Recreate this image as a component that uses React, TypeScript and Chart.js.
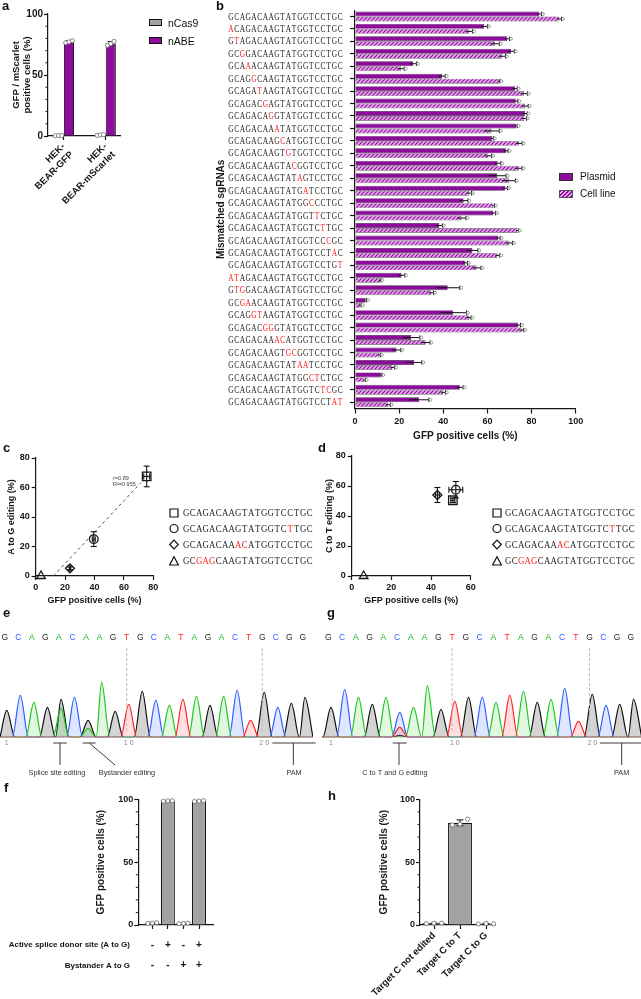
import React, { useEffect, useRef } from 'react';
import { Chart, registerables } from 'chart.js';

Chart.register(...registerables);

const SANS = '"Liberation Sans", Arial, Helvetica, sans-serif';
const SERIF = '"Liberation Serif", "Times New Roman", serif';
Chart.defaults.font.family = SANS;
Chart.defaults.color = '#111';

const AX = '#161616';
const PURPLE = '#8e0c9c';
const GRAY = '#a2a2a2';
const RED = '#ff2020';

// ---------- panel a ----------
const aGroups = [['HEK-', 'BEAR-GFP'], ['HEK-', 'BEAR-mScarlet']];
const aSeries = ['nCas9', 'nABE'];
const aCas9 = [0.3, 0.8];
const aABE = [77.2, 75.8];
const aCas9Err = [0.1, 0.3];
const aABEErr = [0.9, 1.6];
const aCas9Reps = [[0.2, 0.3, 0.4], [0.5, 0.8, 1.1]];
const aABEReps = [[76.4, 77.1, 78.1], [74.3, 75.6, 77.6]];
const aTicks = [0, 50, 100];

// ---------- panel b ----------
const WT = 'GCAGACAAGTATGGTCCTGC';
const bSeqs = [
  'GCAGACAAGTATGGTCCTGC', 'ACAGACAAGTATGGTCCTGC', 'GTAGACAAGTATGGTCCTGC', 'GCGGACAAGTATGGTCCTGC',
  'GCAAACAAGTATGGTCCTGC', 'GCAGGCAAGTATGGTCCTGC', 'GCAGATAAGTATGGTCCTGC', 'GCAGACGAGTATGGTCCTGC',
  'GCAGACAGGTATGGTCCTGC', 'GCAGACAAATATGGTCCTGC', 'GCAGACAAGCATGGTCCTGC', 'GCAGACAAGTGTGGTCCTGC',
  'GCAGACAAGTACGGTCCTGC', 'GCAGACAAGTATAGTCCTGC', 'GCAGACAAGTATGATCCTGC', 'GCAGACAAGTATGGCCCTGC',
  'GCAGACAAGTATGGTTCTGC', 'GCAGACAAGTATGGTCTTGC', 'GCAGACAAGTATGGTCCCGC', 'GCAGACAAGTATGGTCCTAC',
  'GCAGACAAGTATGGTCCTGT', 'ATAGACAAGTATGGTCCTGC', 'GTGGACAAGTATGGTCCTGC', 'GCGAACAAGTATGGTCCTGC',
  'GCAGGTAAGTATGGTCCTGC', 'GCAGACGGGTATGGTCCTGC', 'GCAGACAAACATGGTCCTGC', 'GCAGACAAGTGCGGTCCTGC',
  'GCAGACAAGTATAATCCTGC', 'GCAGACAAGTATGGCTCTGC', 'GCAGACAAGTATGGTCTCGC', 'GCAGACAAGTATGGTCCTAT',
];
const bPlasmid = [83.5, 58.6, 69.0, 70.7, 26.4, 39.4, 72.5, 72.8, 77.0, 73.0, 62.2, 68.4, 64.6, 64.5, 68.1, 49.2,
  62.7, 38.2, 64.8, 53.2, 50.0, 21.1, 42.0, 4.8, 44.5, 74.0, 25.4, 18.8, 26.8, 11.7, 47.5, 29.0];
const bCell = [92.6, 51.8, 63.4, 66.7, 20.8, 65.2, 76.6, 77.0, 76.7, 61.9, 74.3, 60.4, 74.2, 69.7, 51.8, 62.7,
  48.3, 73.5, 69.9, 64.6, 55.1, 11.3, 34.6, 2.3, 51.6, 75.5, 32.0, 11.0, 17.0, 4.2, 40.0, 15.0];
const bPlasmidErr = [1, 1.5, 1, 1.5, 1.5, 1.5, 1, 1, 1, 0.5, 0.5, 1, 1.5, 4, 1, 2, 1, 1.5, 1, 2.5, 1, 1.5, 5.5,
  0.5, 6, 1, 4, 2, 3.5, 0.5, 1.5, 4.5];
const bCellErr = [1, 1.5, 2, 1.5, 1.5, 0.5, 1.5, 1.5, 1, 3.5, 1.5, 1.5, 1.5, 3, 1, 0.5, 2, 0.5, 1.5, 1, 2, 0.5, 1,
  0.5, 1, 1, 2, 0.5, 1, 0.5, 1, 1];
const bSeries = ['Plasmid', 'Cell line'];
const bTicks = [0, 20, 40, 60, 80, 100];

// ---------- panels c / d ----------
const legSeqs = ['GCAGACAAGTATGGTCCTGC', 'GCAGACAAGTATGGTCTTGC', 'GCAGACAAACATGGTCCTGC', 'GCGAGCAAGTATGGTCCTGC'];
const cX = [75.5, 39.5, 23.3, 3.6];
const cY = [67.5, 25, 5.2, 0];
const cErrX = [2, 1, 0.5, 0];
const cErrY = [7, 5, 1, 0];
const cFitX = [12, 71.6];
const cFitY = [0, 63.3];
const dX = [51, 52.5, 43.2, 6];
const dY = [50.5, 57.5, 54, 0];
const dErrX = [1, 3.5, 1, 0];
const dErrY = [1.5, 5.5, 5, 0];

// ---------- panels e / g (peak position, peak height) ----------
const seqEG = 'GCAGACAAGTGCATAGACTGCGG';
const ePeaksG = [[1, 27], [4, 30], [5, 38], [7, 17], [9, 26], [11, 46], [16, 32], [20, 45], [22, 34], [23, 40]];
const ePeaksC = [[2, 42], [6, 40], [12, 37], [18, 47], [21, 30]];
const ePeaksA = [[3, 35], [5, 29], [7, 9], [8, 55], [13, 32], [15, 41], [17, 41]];
const ePeaksT = [[10, 33], [14, 38], [19, 17]];
const gPeaksG = [[1, 30], [4, 33], [6, 2], [9, 28], [11, 40], [16, 35], [20, 43], [22, 33], [23, 38]];
const gPeaksC = [[2, 48], [6, 25], [12, 40], [18, 49], [21, 32]];
const gPeaksA = [[3, 40], [5, 40], [7, 30], [8, 52], [13, 35], [15, 46], [17, 38]];
const gPeaksT = [[6, 10], [10, 36], [14, 42], [19, 16]];
const posTicks = [1, 10, 20];

// ---------- panel f ----------
const fVals = [1.5, 98.7, 1.3, 98.6];
const fErr = [0.2, 0.2, 0.2, 0.3];
const fReps = [[1.3, 1.5, 1.8], [98.5, 98.7, 98.9], [1.1, 1.3, 1.5], [98.3, 98.6, 98.9]];
const fSplice = ['-', '+', '-', '+'];
const fBystander = ['-', '-', '+', '+'];

// ---------- panel h ----------
const hLabels = ['Target C not edited', 'Target C to T', 'Target C to G'];
const hVals = [1.3, 81.3, 1.0];
const hErr = [0.2, 2.3, 0.3];
const hReps = [[1.1, 1.4, 1.5], [79.6, 80.2, 84.2], [0.8, 1.2, 0.9]];

const minorVals = [10, 20, 30, 40, 60, 70, 80, 90];

// ---------- helpers ----------
const BASE_COL: any = { G: '#2a2a2a', C: '#2f5fff', A: '#1fb81f', T: '#ff2424' };
const BORDER = { display: true, color: AX, width: 1.2 };
const gridT = (len: number) => ({ display: true, drawOnChartArea: false, drawTicks: true, tickLength: len, tickColor: AX, tickWidth: 1.2, offset: false });
const bold = (size: number) => ({ size, weight: 'bold' as const });
const fixTicks = (vals: number[]) => (s: any) => { s.ticks = vals.map((v) => ({ value: v })); };
const base = (padding: any, extra: any = {}) => ({
  responsive: false, animation: false, devicePixelRatio: 1,
  layout: { padding },
  plugins: { legend: { display: false }, tooltip: { enabled: false }, ...extra },
});

function seg(ctx: any, x1: number, y1: number, x2: number, y2: number) {
  ctx.beginPath(); ctx.moveTo(x1, y1); ctx.lineTo(x2, y2); ctx.stroke();
}

function drawSeq(ctx: any, s: string, left: number, y: number, cell: number, size: number, sx: number) {
  ctx.save();
  ctx.font = `${size}px ${SERIF}`; ctx.textAlign = 'center'; ctx.textBaseline = 'middle';
  for (let k = 0; k < s.length; k++) {
    const cx = left + (k + 0.5) * cell;
    ctx.fillStyle = s[k] !== WT[k] ? RED : '#262626';
    ctx.save(); ctx.translate(cx, y); ctx.scale(sx, 1); ctx.fillText(s[k], 0, 0); ctx.restore();
  }
  ctx.restore();
}

const decor = {
  id: 'decor',
  afterDatasetsDraw(chart: any) {
    const ctx = chart.ctx;
    const horiz = chart.options.indexAxis === 'y';
    chart.data.datasets.forEach((ds: any, di: number) => {
      const meta = chart.getDatasetMeta(di);
      const xs = chart.scales[meta.xAxisID];
      const ys = chart.scales[meta.yAxisID];
      ctx.save();
      ctx.strokeStyle = '#111';
      ctx.lineWidth = 1;
      meta.data.forEach((el: any, i: number) => {
        const raw = ds.data[i];
        if (meta.type === 'bar') {
          const v = typeof raw === 'number' ? raw : (horiz ? raw.x : raw.y);
          if (ds.errs) {
            const e = ds.errs[i];
            if (horiz) {
              const y = el.y; const cap = 2.2;
              const x1 = xs.getPixelForValue(v - e), x2 = xs.getPixelForValue(v + e);
              seg(ctx, x1, y, x2, y); seg(ctx, x2, y - cap, x2, y + cap);
              ctx.beginPath(); ctx.arc(x2 + 1.5, y, 1.4, 0, Math.PI * 2);
              ctx.fillStyle = '#fff'; ctx.fill(); ctx.strokeStyle = '#777'; ctx.lineWidth = 0.7; ctx.stroke();
              ctx.strokeStyle = '#111'; ctx.lineWidth = 1;
            } else {
              const x = el.x; const cap = Math.min(el.width * 0.3, 3.5);
              const y1 = ys.getPixelForValue(v - e), y2 = ys.getPixelForValue(v + e);
              seg(ctx, x, y1, x, y2); seg(ctx, x - cap, y2, x + cap, y2); seg(ctx, x - cap, y1, x + cap, y1);
            }
          }
          if (ds.reps && !horiz) {
            const r = ds.reps[i];
            r.forEach((rv: number, k: number) => {
              const off = (k - (r.length - 1) / 2) * el.width * 0.32;
              ctx.beginPath();
              ctx.arc(el.x + off, ys.getPixelForValue(rv), 2.1, 0, Math.PI * 2);
              ctx.fillStyle = '#fff'; ctx.fill();
              ctx.strokeStyle = '#6a6a6a'; ctx.lineWidth = 0.8; ctx.stroke();
            });
            ctx.strokeStyle = '#111'; ctx.lineWidth = 1;
          }
        } else if (ds.errX || ds.errY) {
          const px = el.x, py = el.y;
          const ex = ds.errX ? ds.errX[i] : 0, ey = ds.errY ? ds.errY[i] : 0;
          ctx.lineWidth = 1.1;
          if (ey > 0) {
            const y1 = ys.getPixelForValue(raw.y - ey), y2 = ys.getPixelForValue(raw.y + ey);
            seg(ctx, px, y1, px, y2); seg(ctx, px - 3, y1, px + 3, y1); seg(ctx, px - 3, y2, px + 3, y2);
          }
          if (ex > 0) {
            const x1 = xs.getPixelForValue(raw.x - ex), x2 = xs.getPixelForValue(raw.x + ex);
            seg(ctx, x1, py, x2, py); seg(ctx, x1, py - 3, x1, py + 3); seg(ctx, x2, py - 3, x2, py + 3);
          }
        }
      });
      ctx.restore();
    });
  },
};

const minor = {
  id: 'minor',
  afterDraw(chart: any, _a: any, o: any) {
    if (!o || !o.values) return;
    const ctx = chart.ctx, ys = chart.scales.y, l = chart.chartArea.left;
    ctx.save(); ctx.strokeStyle = AX; ctx.lineWidth = 1;
    o.values.forEach((v: number) => { const y = ys.getPixelForValue(v); seg(ctx, l - o.len, y, l, y); });
    ctx.restore();
  },
};

const txt = {
  id: 'txt',
  afterDraw(chart: any, _a: any, o: any) {
    if (!o || !o.items) return;
    const ctx = chart.ctx;
    ctx.save(); ctx.textBaseline = 'middle'; ctx.textAlign = 'left';
    o.items.forEach((it: any) => { ctx.font = `${it.size}px ${SANS}`; ctx.fillStyle = it.color; ctx.fillText(it.t, it.x, it.y); });
    ctx.restore();
  },
};

const seqLegend = {
  id: 'seqLegend',
  afterDraw(chart: any, _a: any, o: any) {
    if (!o || !o.seqs) return;
    const ctx = chart.ctx;
    ctx.save();
    ctx.strokeStyle = '#111'; ctx.lineWidth = 1.2;
    o.seqs.forEach((s: string, i: number) => {
      const y = o.rows[i], mx = o.markerX;
      ctx.beginPath();
      if (i === 0) ctx.rect(mx - 4, y - 4, 8, 8);
      else if (i === 1) ctx.arc(mx, y, 4, 0, Math.PI * 2);
      else if (i === 2) { ctx.moveTo(mx, y - 4.3); ctx.lineTo(mx + 4.3, y); ctx.lineTo(mx, y + 4.3); ctx.lineTo(mx - 4.3, y); ctx.closePath(); }
      else { ctx.moveTo(mx, y - 4.2); ctx.lineTo(mx + 4.4, y + 4); ctx.lineTo(mx - 4.4, y + 4); ctx.closePath(); }
      ctx.stroke();
      drawSeq(ctx, s, o.textX, y + 0.5, o.cell, o.size, o.sx);
    });
    ctx.restore();
  },
};

const seqLabels = {
  id: 'seqLabels',
  afterDraw(chart: any, _a: any, o: any) {
    if (!o || !o.seqs) return;
    const ctx = chart.ctx, ys = chart.scales.y;
    o.seqs.forEach((s: string, i: number) => {
      const y = ys.getPixelForValue(i) + 0.5;
      drawSeq(ctx, s, o.right - s.length * o.cell, y, o.cell, o.size, o.sx);
    });
  },
};

const chrom = {
  id: 'chrom',
  afterDraw(chart: any, _a: any, o: any) {
    if (!o || !o.letters) return;
    const ctx = chart.ctx, xs = chart.scales.x;
    const px = (p: number) => xs.getPixelForValue(p);
    ctx.save();
    ctx.font = `${o.letterSize}px ${SANS}`; ctx.textAlign = 'center'; ctx.textBaseline = 'middle';
    o.letters.forEach((ch: string, i: number) => { ctx.fillStyle = BASE_COL[ch]; ctx.fillText(ch, px(i + 1 + o.shift), o.letterY); });
    ctx.setLineDash([3, 2]); ctx.strokeStyle = '#bdbdbd'; ctx.lineWidth = 1;
    o.dashed.forEach((p: number) => { const x = px(p + o.shift); seg(ctx, x, o.dashTop, x, o.dashBottom); });
    ctx.setLineDash([]); ctx.strokeStyle = '#3a3a3a'; ctx.lineWidth = 1; ctx.fillStyle = '#333';
    ctx.font = `${o.noteSize}px ${SANS}`;
    o.notes.forEach((n: any) => {
      seg(ctx, px(n.from), o.bracketY, px(n.to), o.bracketY);
      seg(ctx, px(n.stem), o.bracketY, px(n.end), o.stemY);
      ctx.fillText(n.label, px(n.at), o.labelY);
    });
    ctx.restore();
  },
};

const signTable = {
  id: 'signTable',
  afterDraw(chart: any, _a: any, o: any) {
    if (!o || !o.rows) return;
    const ctx = chart.ctx, xs = chart.scales.x;
    ctx.save(); ctx.fillStyle = AX; ctx.textBaseline = 'middle';
    o.rows.forEach((r: any) => {
      ctx.font = `bold ${o.size}px ${SANS}`; ctx.textAlign = 'right';
      ctx.fillText(r.label, o.labelRight, r.y);
      ctx.font = `bold 10px ${SANS}`; ctx.textAlign = 'center';
      r.signs.forEach((s: string, i: number) => ctx.fillText(s, xs.getPixelForValue(i + 1), r.y));
    });
    ctx.restore();
  },
};

function hatch() {
  const c = document.createElement('canvas');
  c.width = 4; c.height = 4;
  const g = c.getContext('2d') as CanvasRenderingContext2D;
  g.fillStyle = '#e4aeea'; g.fillRect(0, 0, 4, 4);
  g.strokeStyle = '#930fa3'; g.lineWidth = 1.2;
  g.beginPath();
  g.moveTo(-1, 5); g.lineTo(5, -1);
  g.moveTo(-1, 1); g.lineTo(1, -1);
  g.moveTo(3, 5); g.lineTo(5, 3);
  g.stroke();
  return g.createPattern(c, 'repeat');
}

function traceData(peaks: number[][], lo: number, hi: number, half: number) {
  const s = peaks.slice().sort((a, b) => a[0] - b[0]);
  const pts: any[] = [{ x: lo, y: 0 }];
  for (const [p, h] of s) {
    const l = p - half;
    if (l > pts[pts.length - 1].x) pts.push({ x: l, y: 0 });
    pts.push({ x: p, y: h }, { x: p + half, y: 0 });
  }
  if (pts[pts.length - 1].x < hi) pts.push({ x: hi, y: 0 });
  return pts;
}

function chromSets(T: number[][], A: number[][], C: number[][], G: number[][], lo: number, hi: number) {
  const mk = (pk: number[][], col: string, fill: string) => ({
    data: traceData(pk, lo, hi, 0.6), borderColor: col, backgroundColor: fill, fill: 'origin',
    borderWidth: 1.2, pointRadius: 0, cubicInterpolationMode: 'monotone',
  });
  return [
    mk(T, '#ff2424', 'rgba(255,80,80,0.18)'),
    mk(A, '#22c422', 'rgba(70,210,70,0.17)'),
    mk(C, '#2f5fff', 'rgba(80,115,255,0.18)'),
    mk(G, '#111111', 'rgba(60,60,60,0.22)'),
  ];
}

// ---------- chart configs ----------
const makeA = () => ({
  type: 'bar',
  data: {
    datasets: [
      { label: aSeries[0], data: aCas9.map((v, i) => ({ x: i + 1, y: v })), backgroundColor: GRAY, borderColor: AX, borderWidth: 1,
        errs: aCas9Err, reps: aCas9Reps, categoryPercentage: 0.5, barPercentage: 0.97 },
      { label: aSeries[1], data: aABE.map((v, i) => ({ x: i + 1, y: v })), backgroundColor: PURPLE, borderColor: AX, borderWidth: 1,
        errs: aABEErr, reps: aABEReps, categoryPercentage: 0.5, barPercentage: 0.97 },
    ],
  },
  options: {
    ...base({ left: 0, right: 20, top: 14, bottom: 0 }, { minor: { values: minorVals, len: 2.5 } }),
    scales: {
      x: {
        type: 'linear', min: 0.624, max: 2.345, offset: false, border: BORDER, grid: gridT(4),
        afterBuildTicks: fixTicks([1, 2]),
        ticks: { autoSkip: false, minRotation: 45, maxRotation: 45, padding: 1, color: AX, font: bold(9.5),
          callback: (v: number) => aGroups[Math.round(v) - 1] },
        afterFit: (s: any) => { s.height = 79; },
      },
      y: {
        type: 'linear', min: 0, max: 100, border: BORDER, grid: gridT(4),
        afterBuildTicks: fixTicks(aTicks),
        ticks: { padding: 1, color: AX, font: bold(10) },
        title: { display: true, text: ['GFP / mScarlet', 'positive cells (%)'], color: AX, font: bold(9.5), padding: { top: 10.3, bottom: 0 } },
        afterFit: (s: any) => { s.width = 48; },
      },
    },
  },
  plugins: [decor, minor],
});

const makeB = () => ({
  type: 'bar',
  data: {
    labels: bSeqs,
    datasets: [
      { label: bSeries[0], data: bPlasmid, backgroundColor: PURPLE, borderColor: '#4a2a50', borderWidth: 0.7,
        errs: bPlasmidErr, categoryPercentage: 0.8, barPercentage: 1 },
      { label: bSeries[1], data: bCell, backgroundColor: hatch(), borderColor: '#6a6a6a', borderWidth: 0.7,
        errs: bCellErr, categoryPercentage: 0.8, barPercentage: 1 },
    ],
  },
  options: {
    indexAxis: 'y',
    ...base({ left: 10, right: 65.3, top: 10, bottom: 0 }, { seqLabels: { seqs: bSeqs, right: 143, cell: 5.75, size: 10, sx: 0.74 } }),
    scales: {
      y: {
        type: 'category', offset: true, border: BORDER, grid: gridT(5),
        ticks: { autoSkip: false, callback: () => '' },
        title: { display: true, text: 'Mismatched sgRNAs', color: AX, font: bold(10), padding: { top: 4.8, bottom: 0 } },
        afterFit: (s: any) => { s.width = 145; },
      },
      x: {
        type: 'linear', min: 0, max: 100, border: BORDER, grid: gridT(5),
        afterBuildTicks: fixTicks(bTicks),
        ticks: { padding: 3, color: AX, font: bold(9) },
        title: { display: true, text: 'GFP positive cells (%)', color: AX, font: bold(10), padding: { top: 0, bottom: 0 } },
        afterFit: (s: any) => { s.height = 33.5; },
      },
    },
  },
  plugins: [decor, seqLabels],
});

const makeScatter = (xs: number[], ys: number[], ex: number[], ey: number[], xmax: number, ytitle: string,
  yFit: number, titlePad: number, padRight: number, padTop: number, legend: any, fitX?: number[], fitY?: number[], texts?: any[]) => {
  const datasets: any[] = [
    { type: 'scatter', data: xs.map((x, i) => ({ x, y: ys[i] })), pointStyle: ['rect', 'circle', 'rectRot', 'triangle'],
      pointRadius: [6, 4.3, 4.5, 5], pointBorderColor: AX, pointBackgroundColor: 'rgba(0,0,0,0)', pointBorderWidth: 1.3,
      errX: ex, errY: ey, clip: false },
  ];
  if (fitX && fitY) {
    datasets.push({ type: 'line', data: fitX.map((x, i) => ({ x, y: fitY[i] })), borderColor: '#555', borderDash: [3, 3],
      borderWidth: 1, pointRadius: 0, fill: false });
  }
  return {
    type: 'scatter',
    data: { datasets },
    options: {
      ...base({ left: 0, right: padRight, top: padTop, bottom: 0 }, { seqLegend: legend, ...(texts ? { txt: { items: texts } } : {}) }),
      scales: {
        x: {
          type: 'linear', min: 0, max: xmax, border: BORDER, grid: gridT(4),
          ticks: { stepSize: 20, padding: 2, color: AX, font: bold(9) },
          title: { display: true, text: 'GFP positive cells (%)', color: AX, font: bold(9), padding: { top: 0, bottom: 3.6 } },
          afterFit: (s: any) => { s.height = 34; },
        },
        y: {
          type: 'linear', min: 0, max: 80, border: BORDER, grid: gridT(4),
          ticks: { stepSize: 20, padding: 2, color: AX, font: bold(9) },
          title: { display: true, text: ytitle, color: AX, font: bold(9), padding: { top: titlePad, bottom: 0 } },
          afterFit: (s: any) => { s.width = yFit; },
        },
      },
    },
    plugins: [decor, txt, seqLegend],
  };
};

const makeChrom = (sets: any[], lo: number, hi: number, padLeft: number, padRight: number, notes: any[], shift: number) => ({
  type: 'line',
  data: { datasets: sets },
  options: {
    ...base({ left: padLeft, right: padRight, top: 25, bottom: 30.7 }, {
      chrom: { letters: seqEG.split(''), letterY: 17.5, letterSize: 8.5, shift, dashed: [10, 20], dashTop: 28, dashBottom: 113,
        notes, bracketY: 123, stemY: 145, labelY: 153, noteSize: 7.3 },
    }),
    scales: {
      x: {
        type: 'linear', min: lo, max: hi, border: { display: false }, grid: { display: false, drawTicks: false },
        afterBuildTicks: fixTicks(posTicks),
        ticks: { padding: 2, color: '#8a8a8a', font: { size: 7 }, callback: (v: number) => String(v).split('').join(' ') },
        afterFit: (s: any) => { s.height = 12; },
      },
      y: { display: false, min: 0, max: 92.3 },
    },
  },
  plugins: [chrom],
});

const eNotes = [
  { from: 4.43, to: 5.42, stem: 4.93, end: 4.93, label: 'Splice site editing', at: 4.7 },
  { from: 6.6, to: 7.56, stem: 7.09, end: 8.99, label: 'Bystander editing', at: 9.87 },
  { from: 20.6, to: 23.8, stem: 22.15, end: 22.15, label: 'PAM', at: 22.2 },
];
const gNotes = [
  { from: 5.49, to: 6.51, stem: 5.945, end: 5.945, label: 'C to T and G editing', at: 5.65 },
  { from: 20.56, to: 23.8, stem: 22.14, end: 22.14, label: 'PAM', at: 22.14 },
];

const makeF = () => ({
  type: 'bar',
  data: {
    datasets: [{ data: fVals.map((v, i) => ({ x: i + 1, y: v })), backgroundColor: GRAY, borderColor: AX, borderWidth: 1.2,
      errs: fErr, reps: fReps, categoryPercentage: 1, barPercentage: 0.9 }],
  },
  options: {
    ...base({ left: 90, right: 17, top: 19.3, bottom: 0 }, {
      minor: { values: minorVals, len: 2.5 },
      signTable: { size: 8, labelRight: 130, rows: [
        { label: 'Active splice donor site (A to G)', signs: fSplice, y: 165 },
        { label: 'Bystander A to G', signs: fBystander, y: 185.7 },
      ] },
    }),
    scales: {
      x: {
        type: 'linear', min: 0.101, max: 4.898, offset: false, border: BORDER, grid: gridT(4),
        afterBuildTicks: fixTicks([1, 2, 3, 4]),
        ticks: { callback: () => '' },
        afterFit: (s: any) => { s.height = 65; },
      },
      y: {
        type: 'linear', min: 0, max: 100, border: BORDER, grid: gridT(4),
        afterBuildTicks: fixTicks(aTicks),
        ticks: { padding: 1, color: AX, font: bold(9) },
        title: { display: true, text: 'GFP positive cells (%)', color: AX, font: bold(10), padding: { top: 5, bottom: 0 } },
        afterFit: (s: any) => { s.width = 48.3; },
      },
    },
  },
  plugins: [decor, minor, signTable],
});

const makeH = () => ({
  type: 'bar',
  data: {
    datasets: [{ data: hVals.map((v, i) => ({ x: i + 1, y: v })), backgroundColor: GRAY, borderColor: AX, borderWidth: 1.2,
      errs: hErr, reps: hReps, categoryPercentage: 1, barPercentage: 0.92 }],
  },
  options: {
    ...base({ left: 55, right: 24.3, top: 19.3, bottom: 0 }, { minor: { values: minorVals, len: 2.5 } }),
    scales: {
      x: {
        type: 'linear', min: 0.4615, max: 3.373, offset: false, border: BORDER, grid: gridT(4),
        afterBuildTicks: fixTicks([1, 2, 3]),
        ticks: { autoSkip: false, minRotation: 45, maxRotation: 45, padding: 1, color: AX, font: bold(9.5),
          callback: (v: number) => hLabels[Math.round(v) - 1] },
        afterFit: (s: any) => { s.height = 74; },
      },
      y: {
        type: 'linear', min: 0, max: 100, border: BORDER, grid: gridT(4),
        afterBuildTicks: fixTicks(aTicks),
        ticks: { padding: 1, color: AX, font: bold(9) },
        title: { display: true, text: 'GFP positive cells (%)', color: AX, font: bold(10), padding: { top: 3, bottom: 0 } },
        afterFit: (s: any) => { s.width = 45; },
      },
    },
  },
  plugins: [decor, minor],
});

// ---------- components ----------
function ChartBox({ x, y, w, h, make }: { x: number; y: number; w: number; h: number; make: () => any }) {
  const ref = useRef<HTMLCanvasElement>(null);
  useEffect(() => {
    const chart = new Chart(ref.current as HTMLCanvasElement, make());
    return () => chart.destroy();
  }, []);
  return <canvas ref={ref} width={w} height={h} style={{ position: 'absolute', left: x, top: y, width: w, height: h }} />;
}

const panelLabels = [
  { t: 'a', x: 2, y: -1 }, { t: 'b', x: 216, y: -1 }, { t: 'c', x: 3, y: 441 }, { t: 'd', x: 318, y: 441 },
  { t: 'e', x: 3, y: 606 }, { t: 'g', x: 327, y: 606 }, { t: 'f', x: 4, y: 781 }, { t: 'h', x: 328, y: 789 },
];

const legRowsC = [68, 83.5, 99.5, 116];

export default function App() {
  const abs = (l: number, t: number, extra: any = {}) => ({ position: 'absolute' as const, left: l, top: t, ...extra });
  return (
    <div style={{ position: 'absolute', left: 0, top: 0, width: 641, height: 999, background: '#fff', overflow: 'hidden', fontFamily: SANS, color: '#111' }}>
      <ChartBox x={0} y={0} w={140} h={215} make={makeA} />
      <ChartBox x={200} y={0} w={441} h={442} make={makeB} />
      <ChartBox x={0} y={445} w={320} h={165}
        make={() => makeScatter(cX, cY, cErrX, cErrY, 80, 'A to G editing (%)', 35.7, 6.3, 166.7, 13,
          { seqs: legSeqs, rows: legRowsC, markerX: 174, textX: 183, cell: 6.5, size: 11, sx: 0.8 },
          cFitX, cFitY, [
            { t: 'r=0.89', x: 113, y: 33, size: 5.5, color: '#444' },
            { t: 'R²=0.955', x: 113, y: 39.5, size: 5.5, color: '#444' },
          ])} />
      <ChartBox x={320} y={445} w={321} h={165}
        make={() => makeScatter(dX, dY, dErrX, dErrY, 60, 'C to T editing (%)', 31.7, 4.6, 170.3, 11,
          { seqs: legSeqs, rows: legRowsC, markerX: 177, textX: 185, cell: 6.5, size: 11, sx: 0.8 })} />
      <ChartBox x={0} y={620} w={320} h={160}
        make={() => makeChrom(chromSets(ePeaksT, ePeaksA, ePeaksC, ePeaksG, 0.5, 23.6), 0.5, 23.6, 0, 7, eNotes, -0.15)} />
      <ChartBox x={320} y={620} w={321} h={160}
        make={() => makeChrom(chromSets(gPeaksT, gPeaksA, gPeaksC, gPeaksG, 0.345, 23.545), 0.345, 23.545, 2, 0, gNotes, -0.2)} />
      <ChartBox x={0} y={780} w={230} h={210} make={makeF} />
      <ChartBox x={320} y={780} w={200} h={219} make={makeH} />

      {panelLabels.map((p) => (
        <div key={p.t} style={abs(p.x, p.y, { fontWeight: 'bold', fontSize: 13, lineHeight: '13px' })}>{p.t}</div>
      ))}

      {/* legend a */}
      <div style={abs(149, 19, { width: 13, height: 7, background: GRAY, border: '1px solid #111', boxSizing: 'border-box' })} />
      <div style={abs(168, 17, { fontSize: 10.5, lineHeight: '12px' })}>{aSeries[0]}</div>
      <div style={abs(149, 37, { width: 13, height: 7, background: PURPLE, border: '1px solid #111', boxSizing: 'border-box' })} />
      <div style={abs(168, 35, { fontSize: 10.5, lineHeight: '12px' })}>{aSeries[1]}</div>

      {/* legend b */}
      <div style={abs(559, 173, { width: 14, height: 7.5, background: PURPLE, border: '0.8px solid #333', boxSizing: 'border-box' })} />
      <div style={abs(580, 170.5, { fontSize: 10, lineHeight: '12px' })}>{bSeries[0]}</div>
      <div style={abs(559, 190, { width: 14, height: 7.5, background: 'repeating-linear-gradient(135deg, #930fa3 0 1.1px, #e4aeea 1.1px 2.8px)', border: '0.8px solid #555', boxSizing: 'border-box' })} />
      <div style={abs(580, 187.5, { fontSize: 10, lineHeight: '12px' })}>{bSeries[1]}</div>
    </div>
  );
}
